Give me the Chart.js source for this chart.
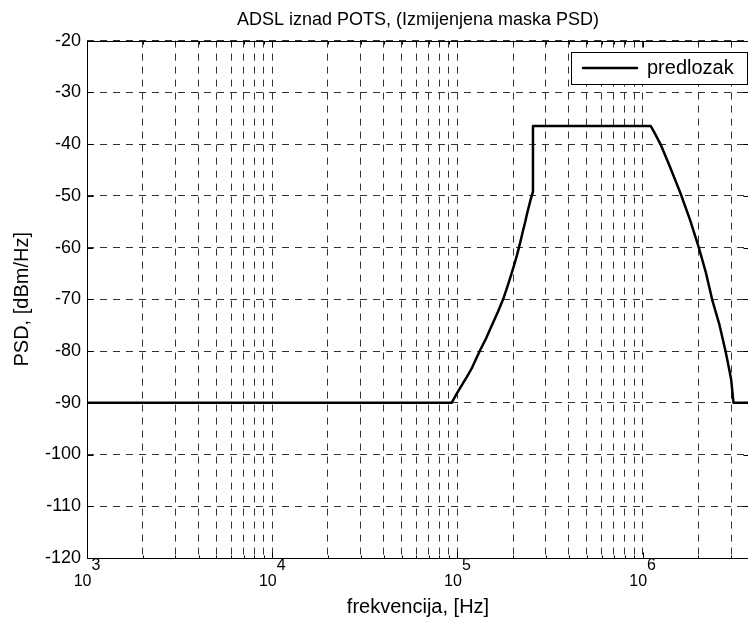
<!DOCTYPE html>
<html>
<head>
<meta charset="utf-8">
<script src="https://cdn.jsdelivr.net/npm/chart.js@4/dist/chart.umd.min.js"></script>
<style>
html,body{margin:0;padding:0;overflow:hidden;background:#fff;}
#wrap{width:760px;height:617px;}
canvas{display:block;}
</style>
</head>
<body>
<div id="wrap"><canvas id="c" width="760" height="617"></canvas></div>
<script>
// ---- data ----
const frequencyHz = [1000, 93000, 100000, 112400, 120000, 132700, 143000, 153500, 165000, 177300, 187000, 196800, 203000,
                     209400, 218300, 225000, 232300, 237000, 242000, 249000, 255700, 255700,
                     1104000, 1150000, 1247000, 1400000, 1600000, 1800000, 2010000, 2200000, 2370000, 2600000,
                     2800000, 2950000, 3006000, 3093000, 3750000];
const psdDbmHz    = [-90, -90, -88.0, -85.0, -83.2, -79.8, -77.5, -75.0, -72.5, -69.8, -67.3, -64.8, -63.2,
                     -61.5, -59.0, -57.0, -55.0, -53.6, -52.3, -50.6, -49.2, -36.5,
                     -36.5, -37.6, -40.0, -44.3, -49.5, -54.6, -60.0, -65.0, -70.0, -75.0,
                     -80.0, -84.0, -85.6, -90, -90];
const xMajorTicks = [1e3, 1e4, 1e5, 1e6];
const xTickExponents = ['3', '4', '5', '6'];
const xMinorMultipliers = [2, 3, 4, 5, 6, 7, 8, 9];
const yTickValues = [-120, -110, -100, -90, -80, -70, -60, -50, -40, -30, -20];
const xRange = [1e3, 3.75e6];
const yRange = [-120, -20];
const titleText = 'ADSL iznad POTS, (Izmijenjena maska PSD)';
const xLabel = 'frekvencija, [Hz]';
const yLabel = 'PSD, [dBm/Hz]';
const seriesName = 'predlozak';

const FONT = '"Liberation Sans", Arial, Helvetica, sans-serif';
const NB = '\u00a0';
Chart.defaults.font.family = FONT;
Chart.defaults.color = '#000';

const xGridValues = [];
xMajorTicks.forEach(m => {
  if (m <= xRange[1]) xGridValues.push(m);
  xMinorMultipliers.forEach(k => { if (m * k <= xRange[1]) xGridValues.push(m * k); });
});

const points = frequencyHz.map((f, i) => ({x: f, y: psdDbmHz[i]}));

const LEGEND_INSET_RIGHT = 2.3, LEGEND_INSET_TOP = 11.4;

const framePlugin = {
  id: 'frame',
  afterUpdate(chart) {
    const lg = chart.legend, ca = chart.chartArea;
    if (!lg) return;
    const o = lg.options.labels;
    const f = Chart.helpers.toFont(o.font);
    const ctx = chart.ctx;
    ctx.save(); ctx.font = f.string;
    const itemW = o.boxWidth + f.size / 2 + ctx.measureText(seriesName).width;
    ctx.restore();
    const boxRight = ca.right - LEGEND_INSET_RIGHT;
    const boxTop = ca.top + LEGEND_INSET_TOP;
    const cx = boxRight - 13 - itemW;
    const cy = boxTop + 6;
    lg.left = cx - o.padding; lg.top = cy - o.padding;
    lg.right = ca.right; lg.bottom = ca.bottom;
    lg.width = lg.right - lg.left; lg.height = lg.bottom - lg.top;
    lg._boxRect = {x0: cx - 12, y0: boxTop, x1: boxRight, y1: cy + 26};
  },
  afterDraw(chart) {
    const {ctx, chartArea: ca, scales} = chart;
    ctx.save();
    ctx.strokeStyle = '#000'; ctx.lineWidth = 1; ctx.setLineDash([]);
    const L = Math.round(ca.left) + 0.5, R = Math.round(ca.right) + 0.5;
    const T = Math.round(ca.top) + 0.5, B = Math.round(ca.bottom) + 0.5;
    ctx.beginPath();
    ctx.rect(L, T, R - L, B - T);
    scales.x.ticks.forEach(t => {
      const px = Math.round(scales.x.getPixelForValue(t.value)) + 0.5;
      const len = xMajorTicks.includes(t.value) ? 6 : 3;
      ctx.moveTo(px, B); ctx.lineTo(px, B - len);
      ctx.moveTo(px, T); ctx.lineTo(px, T + len);
    });
    scales.y.ticks.forEach(t => {
      const py = Math.round(scales.y.getPixelForValue(t.value)) + 0.5;
      ctx.moveTo(L, py); ctx.lineTo(L + 6, py);
      ctx.moveTo(R, py); ctx.lineTo(R - 6, py);
    });
    ctx.stroke();
    const lg = chart.legend;
    if (lg && lg._boxRect) {
      const r = lg._boxRect;
      const x0 = Math.round(r.x0) + 0.5, y0 = Math.round(r.y0) + 0.5, x1 = Math.round(r.x1) + 0.5, y1 = Math.round(r.y1) + 0.5;
      ctx.fillStyle = '#fff';
      ctx.fillRect(x0, y0, x1 - x0, y1 - y0);
      ctx.strokeRect(x0, y0, x1 - x0, y1 - y0);
    }
    ctx.restore();
    if (lg) lg.draw();
  }
};

new Chart(document.getElementById('c'), {
  type: 'line',
  data: {
    datasets: [{
      label: seriesName,
      data: points,
      borderColor: '#000',
      backgroundColor: '#000',
      borderWidth: 2.5,
      borderJoinStyle: 'round',
      pointRadius: 0,
      pointHoverRadius: 0,
      tension: 0,
      fill: false
    }]
  },
  options: {
    responsive: false,
    animation: false,
    devicePixelRatio: 1,
    layout: {padding: {left: 0, right: 11, top: 0, bottom: 0}},
    plugins: {
      tooltip: {enabled: false},
      title: {
        display: true,
        text: titleText,
        fullSize: false,
        color: '#000',
        font: {size: 18, weight: 'normal', lineHeight: 1.2},
        padding: {top: 9, bottom: 10}
      },
      legend: {
        display: true,
        position: 'chartArea',
        align: 'start',
        labels: {
          boxWidth: 54,
          boxHeight: 0,
          padding: 10,
          color: '#000',
          font: {size: 20}
        }
      }
    },
    scales: {
      x: {
        type: 'logarithmic',
        min: xRange[0],
        max: xRange[1],
        afterBuildTicks: (s) => { s.ticks = xGridValues.map(v => ({value: v})); },
        afterFit: (s) => { s.height = 59; },
        border: {display: false, dash: [7, 6]},
        grid: {color: '#333333', lineWidth: 1, drawTicks: false},
        ticks: {
          autoSkip: false, maxRotation: 0, minRotation: 0, padding: 0,
          color: '#000',
          font: {size: 16, lineHeight: 1.0},
          callback: (v) => {
            const i = xMajorTicks.indexOf(v);
            return i < 0 ? '' : [NB.repeat(4) + xTickExponents[i], '10' + NB.repeat(2)];
          }
        },
        title: {
          display: true, text: xLabel, color: '#000',
          font: {size: 20, lineHeight: 1.0},
          padding: {top: 0, bottom: 0}
        }
      },
      y: {
        type: 'linear',
        min: yRange[0],
        max: yRange[1],
        afterBuildTicks: (s) => { s.ticks = yTickValues.map(v => ({value: v})); },
        afterFit: (s) => { s.width = 87; },
        border: {display: false, dash: [7, 6]},
        grid: {color: '#333333', lineWidth: 1, drawTicks: false},
        ticks: {
          padding: 6, color: '#000',
          font: {size: 18},
          callback: (v) => String(v)
        },
        title: {
          display: true, text: yLabel, color: '#000',
          font: {size: 20, lineHeight: 1.2},
          padding: {top: 10, bottom: 0}
        }
      }
    }
  },
  plugins: [framePlugin]
});
</script>
</body>
</html>
